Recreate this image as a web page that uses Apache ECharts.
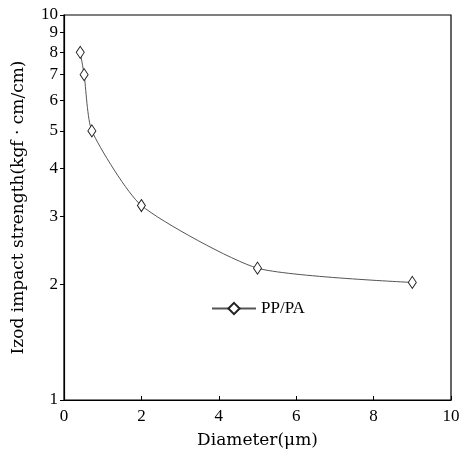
<!DOCTYPE html>
<html><head><meta charset="utf-8">
<script src="https://cdn.jsdelivr.net/npm/echarts@6/dist/echarts.min.js"></script>
<style>html,body{margin:0;padding:0;background:#fff}#c{width:467px;height:454px}</style>
</head><body><div id="c"></div>
<script>
const diameter = [0.42, 0.52, 0.72, 2.0, 5.0, 9.0];
const impact = [8.0, 7.0, 5.0, 3.2, 2.2, 2.02];
const yTicks = [1, 2, 3, 4, 5, 6, 7, 8, 9, 10];
const xTicks = [0, 2, 4, 6, 8, 10];
const seriesName = 'PP/PA';

const font = 'Liberation Serif';
const titleFont = 'DejaVu Serif';
const chart = echarts.init(document.getElementById('c'), null, {renderer: 'canvas'});
chart.setOption({
  backgroundColor: '#fff',
  animation: false,
  grid: {left: 64, right: 16, top: 15, bottom: 52, show: true, borderColor: '#000', borderWidth: 1.2},
  legend: {
    left: 206, top: 295, itemWidth: 44, itemHeight: 14, itemGap: 5,
    textStyle: {fontFamily: font, fontSize: 17, color: '#000'},
    data: [seriesName]
  },
  xAxis: {
    type: 'value', min: 0, max: 10, interval: 2,
    name: 'Diameter(μm)', nameLocation: 'middle', nameGap: 32,
    nameTextStyle: {fontFamily: titleFont, fontSize: 17, color: '#000'},
    axisLine: {lineStyle: {color: '#000', width: 1.2}},
    axisTick: {inside: true, length: 4, lineStyle: {color: '#000'}},
    axisLabel: {fontFamily: font, fontSize: 17, color: '#000', margin: 8,
      customValues: xTicks},
    splitLine: {show: false}
  },
  yAxis: {
    type: 'log', logBase: 10, min: 1, max: 10,
    name: 'Izod impact strength(kgf · cm/cm)', nameLocation: 'middle', nameGap: 37,
    nameTextStyle: {fontFamily: titleFont, fontSize: 17, color: '#000'},
    axisLine: {lineStyle: {color: '#000', width: 1.2}},
    axisTick: {length: 4, lineStyle: {color: '#000'}, customValues: yTicks},
    axisLabel: {fontFamily: font, fontSize: 17, color: '#000', margin: 6, customValues: yTicks},
    splitLine: {show: false}, minorTick: {show: false}
  },
  series: [{
    name: seriesName, type: 'line', smooth: 0.2,
    data: diameter.map((d, i) => [d, impact[i]]),
    symbol: 'diamond', symbolSize: [8, 12],
    itemStyle: {color: '#fff', borderColor: '#222', borderWidth: 1},
    lineStyle: {color: '#555', width: 1}
  }]
});
</script></body></html>
